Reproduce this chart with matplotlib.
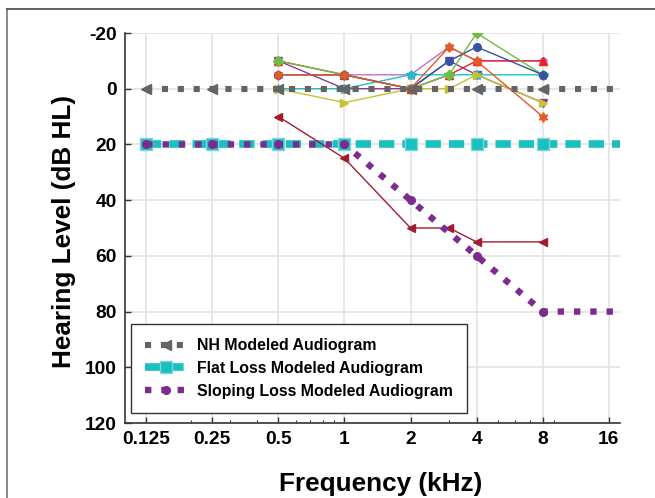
import matplotlib
matplotlib.use('Agg')
import matplotlib.pyplot as plt
from matplotlib.lines import Line2D
from matplotlib.ticker import FixedLocator, NullFormatter

plt.rcParams['font.family'] = ['Liberation Sans', 'DejaVu Sans']
plt.rcParams['font.weight'] = 'bold'

# modeled audiograms
model_freqs = [0.125, 0.25, 0.5, 1, 2, 4, 8, 16, 20]
nh_model = [0, 0, 0, 0, 0, 0, 0, 0, 0]
flat_model = [20, 20, 20, 20, 20, 20, 20, 20, 20]
sloping_model = [20, 20, 20, 20, 40, 60, 80, 80, 80]

# individual listeners
subj_freqs = [0.5, 1, 2, 3, 4, 8]
subj_green = [-10, -5, 0, -5, -20, -5]
subj_blue = [-5, -5, 0, -10, -15, -5]
subj_orange = [-5, -5, 0, -15, -10, 10]
subj_yellow = [0, 5, 0, 0, -5, 5]
subj_red = [-10, -5, 0, -5, -10, -10]
subj_purple = [-10, 0, 0, -10, -5, 5]
subj_pink = [-5, -5, -5, -15, -10, -10]
subj_cyan = [0, 0, -5, -5, -5, -5]
subj_darkred = [10, 25, 50, 50, 55, 55]

xticks = [0.125, 0.25, 0.5, 1, 2, 4, 8, 16]
xticklabels = ['0.125', '0.25', '0.5', '1', '2', '4', '8', '16']
yticks = [-20, 0, 20, 40, 60, 80, 100, 120]

fig = plt.figure(figsize=(6.55, 4.98), dpi=100)
ax = fig.add_axes([125/655, 1-423/498, 495/655, 390/498])

# frame round the figure
fig.add_artist(Line2D([7/655, 7/655], [0, 1-9/498], color='#808080', lw=1.3, transform=fig.transFigure))
fig.add_artist(Line2D([7/655, 1], [1-9/498, 1-9/498], color='#555555', lw=1.3, transform=fig.transFigure))

subjects = [
    (subj_pink, '#C46CCB', 'h'),
    (subj_purple, '#8B3A9A', 'v'),
    (subj_cyan, '#20BFC8', '*'),
    (subj_yellow, '#C6C232', '>'),
    (subj_red, '#EE2224', '^'),
    (subj_green, '#6CBF44', 'D'),
    (subj_blue, '#3A4FA5', 'o'),
    (subj_orange, '#E35B26', (6, 1, 0)),
    (subj_darkred, '#A21C30', '<'),
]
for vals, col, mk in subjects:
    ms = 7 if mk in ('*', (6, 1, 0)) else 5.5
    if mk == 'D':
        ms = 5
    ax.plot(subj_freqs, vals, color=col, lw=1.0, marker=mk, ms=ms, mec=col, mfc=col, zorder=3)

marks = list(range(7))
ax.plot(model_freqs, flat_model, color='#1ABFC0', lw=5.5, ls=(0, (2.0, 1.05)), dash_capstyle='butt',
        marker='s', ms=8.5, mfc='#1ABFC0', mec='#7ED6D8', mew=1, markevery=marks,
        zorder=2.5, label='Flat Loss Modeled Audiogram')
ax.plot(model_freqs, nh_model, color='#646464', lw=4.4, ls=(0, (1, 1.6)), dash_capstyle='butt',
        marker='<', ms=6.5, mfc='#646464', mec='#646464', markevery=marks,
        zorder=4, label='NH Modeled Audiogram')
ax.plot(model_freqs, sloping_model, color='#7B2D8E', lw=4.6, ls=(0, (1, 1.55)), dash_capstyle='butt',
        marker='o', ms=5.5, mfc='#7B2D8E', mec='#7B2D8E', markevery=marks,
        zorder=4, label='Sloping Loss Modeled Audiogram')

ax.set_xscale('log')
ax.set_xlim(0.1, 18)
ax.set_ylim(120, -20)
ax.xaxis.set_major_locator(FixedLocator(xticks))
ax.set_xticklabels(xticklabels)
ax.xaxis.set_minor_formatter(NullFormatter())
ax.set_yticks(yticks)
ax.set_yticklabels([str(v) for v in yticks])

ax.grid(True, which='major', color='#e3e3e3', lw=1.2)
ax.set_axisbelow(True)
for s in ['top', 'right']:
    ax.spines[s].set_visible(False)
for s in ['left', 'bottom']:
    ax.spines[s].set_color('#333333')
    ax.spines[s].set_linewidth(1.2)
ax.tick_params(axis='both', which='major', direction='in', length=4, width=1, color='#333333',
               labelsize=13.8, pad=6)
ax.tick_params(axis='x', which='minor', direction='in', length=2.5, width=0.8, color='#333333')
ax.tick_params(axis='y', which='minor', left=False)
for lbl in ax.get_xticklabels() + ax.get_yticklabels():
    lbl.set_fontweight('bold')

handles, labels = ax.get_legend_handles_labels()
order = [1, 0, 2]
leg = ax.legend([handles[i] for i in order], [labels[i] for i in order],
                loc='lower left', bbox_to_anchor=(0.012, 0.026), borderaxespad=0, fancybox=False,
                framealpha=1, edgecolor='#333333', handlelength=2.6, handletextpad=0.65,
                borderpad=0.9, labelspacing=0.48,
                prop={'family': ['Liberation Sans', 'DejaVu Sans'], 'weight': 'bold', 'size': 11.4})
leg.get_frame().set_linewidth(1.0)
leg.set_zorder(6)

fig.text(381/655, 1-484/498, 'Frequency (kHz)', ha='center', va='center', fontsize=18.8, fontweight='bold')
fig.text(63.5/655, 1-231/498, 'Hearing Level (dB HL)', ha='center', va='center', rotation=90,
         fontsize=18.8, fontweight='bold')

fig.savefig('out.png', dpi=100)
